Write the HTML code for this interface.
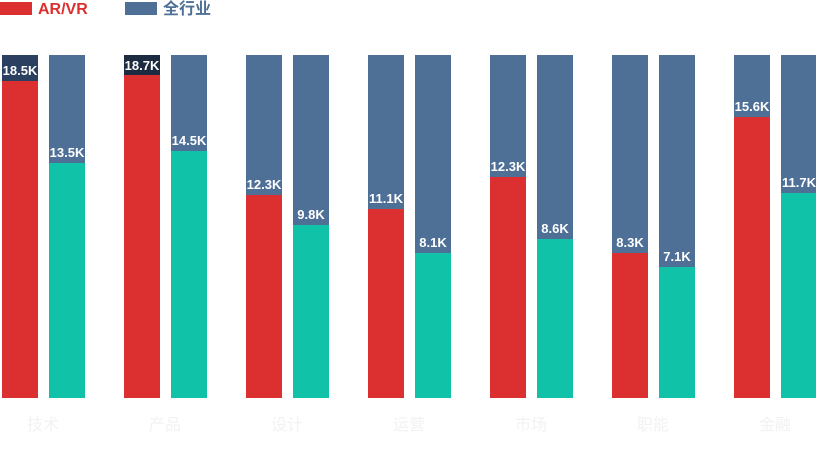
<!DOCTYPE html>
<html><head><meta charset="utf-8"><style>
html,body{margin:0;padding:0;background:#fff;width:816px;height:450px;overflow:hidden}
svg text{font-family:"Liberation Sans","Noto Sans CJK SC",sans-serif}
.v{font-family:"Liberation Sans Narrow","Liberation Sans",sans-serif;font-weight:bold;font-size:13px;fill:#fff;text-anchor:middle}
.x{font-size:16px;fill:#f2f2f2;text-anchor:middle}
</style></head><body>
<svg width="816" height="450" xmlns="http://www.w3.org/2000/svg">
<rect x="0" y="2" width="32" height="13" fill="#dc3030"/>
<text x="38" y="14" font-size="16" font-weight="bold" fill="#dc3030">AR/VR</text>
<rect x="125" y="2" width="32" height="13" fill="#4e6f96"/>
<text x="163" y="14" font-size="16" font-weight="bold" fill="#4e6f96" style="font-family:'Noto Sans CJK SC',sans-serif">全行业</text>
<g id="bars"></g>
</svg>
<script>
var d=[["技术",81,"18.5K",163,"13.5K"],["产品",75,"18.7K",151,"14.5K"],["设计",195,"12.3K",225,"9.8K"],["运营",209,"11.1K",253,"8.1K"],["市场",177,"12.3K",239,"8.6K"],["职能",253,"8.3K",267,"7.1K"],["金融",117,"15.6K",193,"11.7K"]];
var s="";
d.forEach(function(r,i){
var rx=2+122*i,tx=49+122*i;
s+='<rect x="'+rx+'" y="55" width="36" height="343" fill="#4e6f96"/>';
s+='<rect x="'+tx+'" y="55" width="36" height="343" fill="#4e6f96"/>';
if(i==0)s+='<rect x="'+rx+'" y="55" width="36" height="26" fill="#2b4060"/>';
if(i==1)s+='<rect x="'+rx+'" y="55" width="36" height="20" fill="#1d2b40"/>';
s+='<rect x="'+rx+'" y="'+r[1]+'" width="36" height="'+(398-r[1])+'" fill="#dc3030"/>';
s+='<rect x="'+tx+'" y="'+r[3]+'" width="36" height="'+(398-r[3])+'" fill="#10c2a8"/>';
var ly=i==1?70:r[1]-6;
s+='<text class="v" x="'+(rx+18)+'" y="'+ly+'">'+r[2]+'</text>';
s+='<text class="v" x="'+(tx+18)+'" y="'+(r[3]-6)+'">'+r[4]+'</text>';
s+='<text class="x" x="'+(rx+41)+'" y="430">'+r[0]+'</text>';
});
document.getElementById("bars").innerHTML=s;
</script>
</body></html>
